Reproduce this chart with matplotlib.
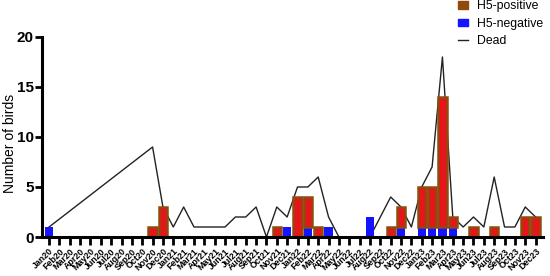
import numpy as np
import matplotlib
matplotlib.use("Agg")
import matplotlib.pyplot as plt
from matplotlib.lines import Line2D
from matplotlib.patches import Patch

plt.rcParams['font.family'] = ['Liberation Sans', 'DejaVu Sans']

months = ["Jan20", "Feb20", "Mar20", "Apr20", "May20", "Jun20", "Jul20", "Aug20", "Sep20", "Oct20", "Nov20", "Dec20",
          "Jan21", "Feb21", "Mar21", "Apr21", "May21", "Jun21", "Jul21", "Aug21", "Sep21", "Oct21", "Nov21", "Dec21",
          "Jan22", "Feb22", "Mar22", "Apr22", "May22", "Jun22", "Jul22", "Aug22", "Sep22", "Oct22", "Nov22", "Dec22",
          "Jan23", "Feb23", "Mar23", "Apr23", "May23", "Jun23", "Jul23", "Aug23", "Sep23", "Oct23", "Nov23", "Dec23"]

h5_negative = [1, 0, 0, 0, 0, 0, 0, 0, 0, 0, 0, 0,
               0, 0, 0, 0, 0, 0, 0, 0, 0, 0, 0, 1,
               0, 1, 0, 1, 0, 0, 0, 2, 0, 0, 1, 0,
               1, 1, 1, 1, 0, 0, 0, 0, 0, 0, 0, 0]

h5_positive = [0, 0, 0, 0, 0, 0, 0, 0, 0, 0, 1, 3,
               0, 0, 0, 0, 0, 0, 0, 0, 0, 0, 1, 0,
               4, 3, 1, 0, 0, 0, 0, 0, 0, 1, 2, 0,
               4, 4, 13, 1, 0, 1, 0, 1, 0, 0, 2, 2]

nan = np.nan
dead = [1, nan, nan, nan, nan, nan, nan, nan, nan, nan, 9, 3,
        1, 3, 1, 1, 1, 1, 2, 2, 3, 0, 3, 2,
        5, 5, 6, 2, 0, nan, nan, 0, 2, 4, 3, 1,
        5, 7, 18, 2, 1, 2, 1, 6, 1, 1, 3, 2]

x = np.arange(len(months))
neg = np.array(h5_negative, dtype=float)
pos = np.array(h5_positive, dtype=float)
dead_arr = np.array(dead, dtype=float)

fig = plt.figure(figsize=(5.5, 2.76), dpi=100)
ax = fig.add_axes([0.0764, 0.1413, 0.9106, 0.7247])

blue = '#1414ff'
brown = '#8f4a0c'
red = '#e8141c'

mask = ~np.isnan(dead_arr)
seg1 = x <= 28
seg2 = x >= 31
for seg in (seg1, seg2):
    m = seg & mask
    ax.plot(x[m], dead_arr[m], color='#222222', lw=1.0, zorder=1)

ax.bar(x[neg > 0], neg[neg > 0], width=0.8, color=blue, zorder=2)
pm = pos > 0
ax.bar(x[pm], pos[pm], width=0.8, bottom=neg[pm], facecolor=red, edgecolor=brown,
       linewidth=1.8, zorder=2)

ax.set_xlim(-0.68, 47.7)
ax.set_ylim(0, 20)
ax.set_yticks([0, 5, 10, 15, 20])
ax.set_xticks(x)
ax.set_xticklabels(months, rotation=45, ha='right', rotation_mode='anchor', fontsize=6.4, fontweight='bold')
for lab in ax.get_yticklabels():
    lab.set_fontweight('bold')
    lab.set_fontsize(11)
ax.set_ylabel("Number of birds", fontsize=10)
ax.yaxis.set_label_coords(-0.05, 0.47)

for s in ('top', 'right'):
    ax.spines[s].set_visible(False)
ax.spines['left'].set_linewidth(2.2)
ax.spines['bottom'].set_linewidth(2.2)
ax.tick_params(axis='x', length=6, width=2, pad=1)
ax.tick_params(axis='y', length=5, width=2, pad=1)

handles = [Patch(facecolor=brown, edgecolor=brown),
           Patch(facecolor=blue, edgecolor=blue),
           Line2D([0], [0], color='#222222', lw=1.0)]
fig.legend(handles, ["H5-positive", "H5-negative", "Dead"], loc='upper left',
           bbox_to_anchor=(0.82, 1.025), frameon=False, fontsize=8.8,
           handlelength=0.8, handleheight=0.55, handletextpad=0.7, labelspacing=0.45,
           borderaxespad=0.2)

fig.savefig("out.png", dpi=100)
